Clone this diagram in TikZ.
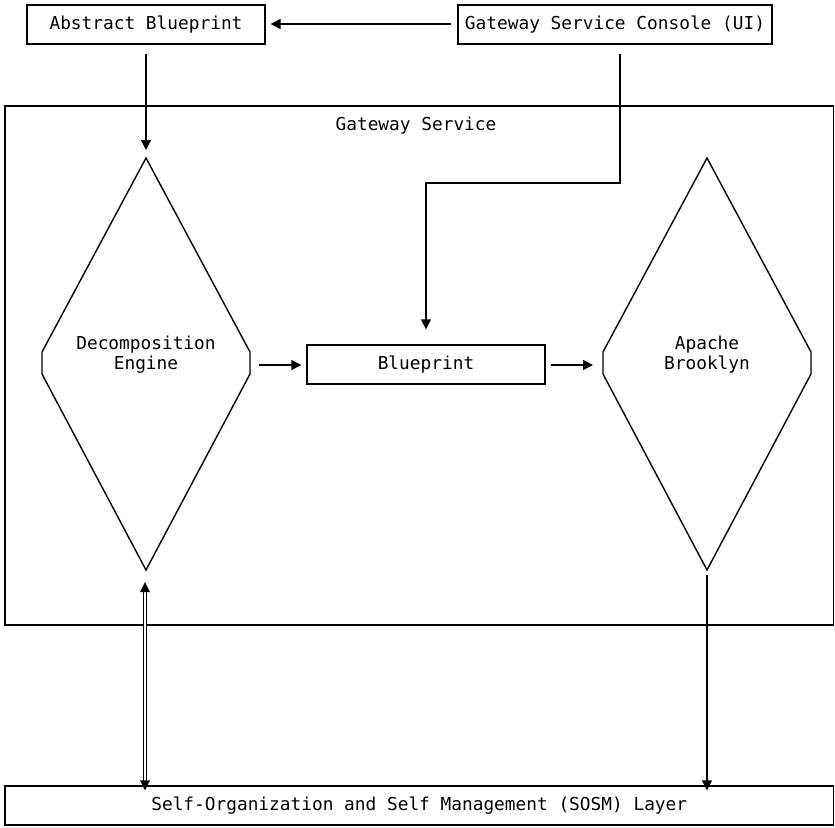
\documentclass[tikz,border=0pt]{standalone}
\usepackage{fontspec}
\setmonofont{DejaVu Sans Mono}
\usetikzlibrary{arrows.meta,calc}

\tikzset{
  base/.style={line width=1.4pt, black},
  box/.style={base, draw, rectangle, inner sep=0pt, minimum height=39pt},
  label/.style={inner sep=0pt, align=center},
  flow/.style={base, -{Triangle[length=10pt,width=10pt]}},
  twin/.style={line width=1.1pt, double, double distance=2pt},
  diamondline/.style={base, line join=miter},
}

\begin{document}
\begin{tikzpicture}[x=1pt, y=-1pt, font=\ttfamily\fontsize{17.8}{19.5}\selectfont]
\useasboundingbox (0,0) rectangle (835,827);

% top row
\node[box, minimum width=238pt] (abs) at (146,24.5) {Abstract Blueprint};
\node[box, minimum width=314pt] (con) at (615,24.5) {Gateway Service Console (UI)};

% Gateway Service frame
\node[box, minimum width=828.5pt, minimum height=519pt] (gw) at (419.25,365.5) {};
\node[label] (gwlabel) at (416,126) {Gateway Service};

% Decomposition Engine (hexagonal diamond)
\coordinate (decN) at (146,158);
\coordinate (decS) at (146,570);
\coordinate (decE) at (250,365);
\draw[diamondline] (decN) -- (42,352) -- (42,374) -- (decS) -- (250,374) -- (250,352) -- cycle;
\node[label] (dec) at (146,354.5) {Decomposition\\Engine};

% Blueprint
\node[box, minimum width=238pt] (bp) at (426,364.5) {Blueprint};

% Apache Brooklyn (hexagonal diamond)
\coordinate (brN) at (707,158);
\coordinate (brS) at (707,570);
\coordinate (brW) at (603,365);
\draw[diamondline] (brN) -- (603,352) -- (603,374) -- (brS) -- (811,374) -- (811,352) -- cycle;
\node[label] (br) at (707,354.5) {Apache\\Brooklyn};

% SOSM layer
\node[box, minimum width=828.5pt] (sosm) at (419.25,805.5) {Self-Organization and Self Management (SOSM) Layer};

% connectors
\draw[flow, shorten <=6pt, shorten >=5pt] (con.west |- 0,24) -- (abs.east |- 0,24);
\draw[flow, shorten <=9pt, shorten >=8pt] (abs.south -| decN) -- (decN);
\coordinate (turn) at (620,183);
\draw[flow, shorten <=9pt, shorten >=15pt] (con.south -| turn) -- (turn) -| (bp.north);
\draw[flow, shorten <=9pt, shorten >=5pt] (decE) -- (bp.west |- decE);
\draw[flow, shorten <=5pt, shorten >=10pt] (bp.east |- brW) -- (brW);
\draw[flow, shorten <=5pt, shorten >=-5pt] (brS) -- (sosm.north -| brS);

% two-way link between the Decomposition Engine and the SOSM layer
\coordinate (dupTip) at ($(decS)+(-1,12)$);
\coordinate (ddnTip) at ($(sosm.north -| decS)+(-1,5)$);
\draw[twin] ($(dupTip)+(0,9)$) -- ($(ddnTip)+(0,-9)$);
\fill (dupTip) -- ++(-5,10) -- ++(10,0) -- cycle;
\fill (ddnTip) -- ++(-5,-10) -- ++(10,0) -- cycle;
\end{tikzpicture}
\end{document}
